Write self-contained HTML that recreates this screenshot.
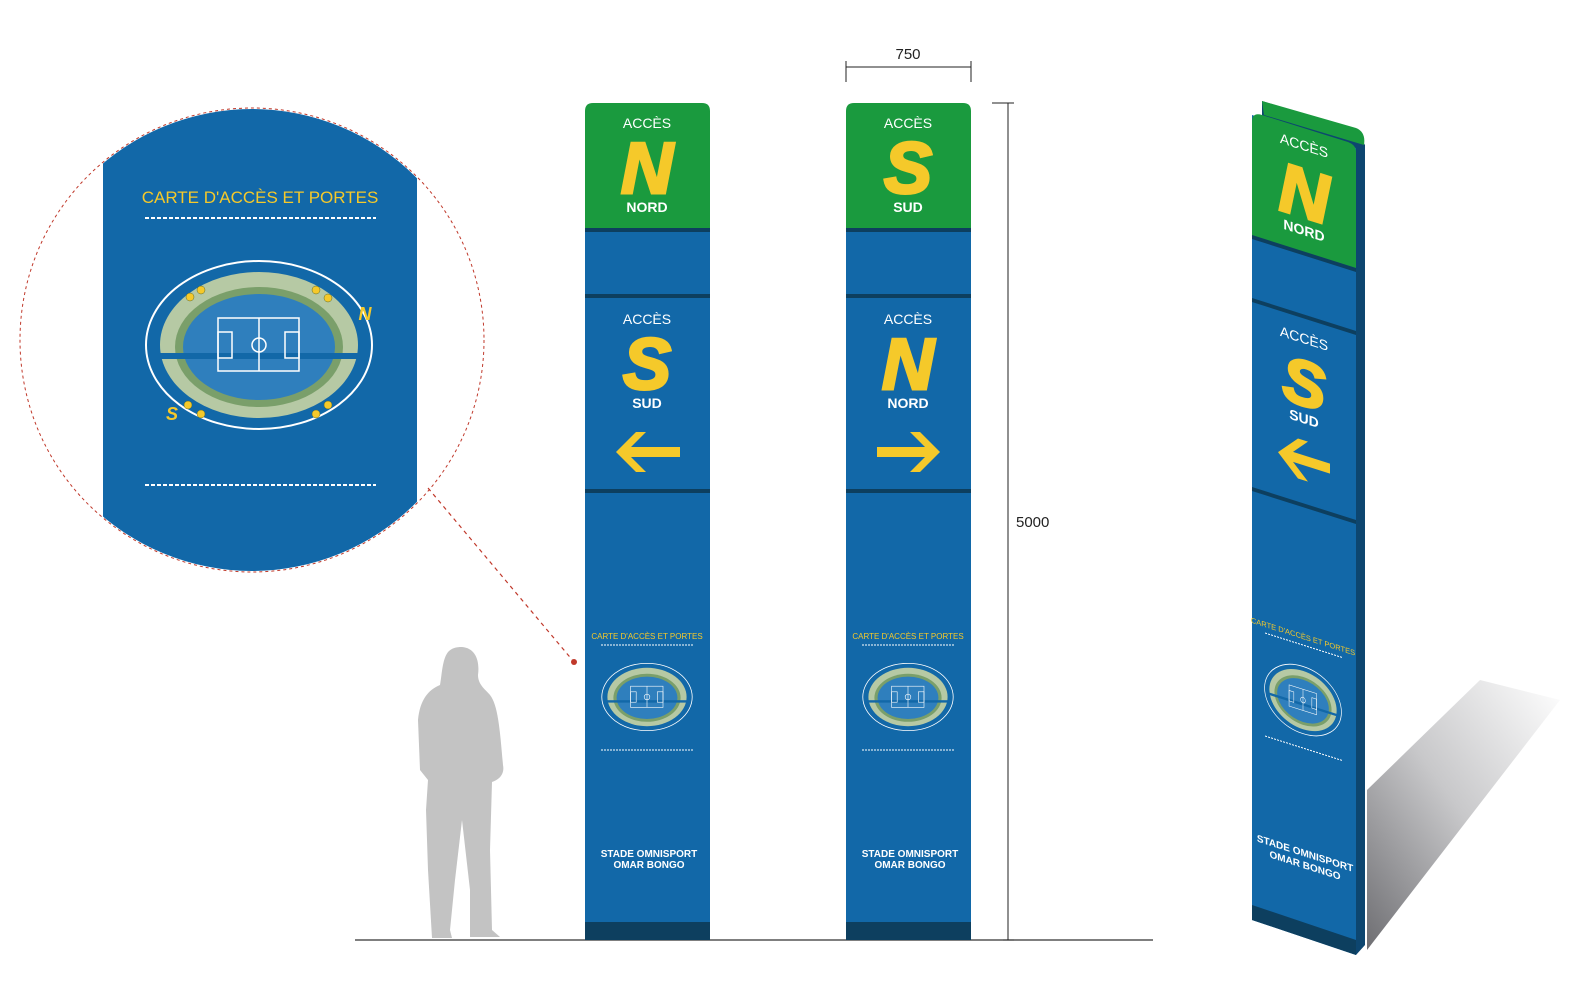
<!DOCTYPE html>
<html><head><meta charset="utf-8"><style>
html,body{margin:0;padding:0;background:#fff;}
svg{display:block;font-family:"Liberation Sans",sans-serif;}
</style></head><body>
<svg width="1580" height="1006" viewBox="0 0 1580 1006" xmlns="http://www.w3.org/2000/svg">
<defs>
<g id="stad">
  <ellipse cx="0" cy="0" rx="113" ry="84" fill="none" stroke="#fff" stroke-width="2"/>
  <ellipse cx="0" cy="0" rx="99" ry="73" fill="#b6c9a4"/>
  <ellipse cx="0" cy="2" rx="84" ry="60" fill="#7a9f6a"/>
  <ellipse cx="0" cy="2" rx="76" ry="53" fill="#2f7fbd"/>
  <rect x="-100" y="8" width="200" height="6" fill="#1268a8"/>
  <rect x="-41" y="-27" width="81" height="53" fill="none" stroke="#fff" stroke-width="1.5"/>
  <line x1="0" y1="-27" x2="0" y2="26" stroke="#fff" stroke-width="1.5"/>
  <circle cx="0" cy="0" r="7" fill="none" stroke="#fff" stroke-width="1.5"/>
  <rect x="-41" y="-13" width="14" height="26" fill="none" stroke="#fff" stroke-width="1.5"/>
  <rect x="26" y="-13" width="14" height="26" fill="none" stroke="#fff" stroke-width="1.5"/>
</g>
<linearGradient id="sh" x1="0" y1="1" x2="1" y2="0">
  <stop offset="0" stop-color="#6e6e72"/>
  <stop offset="0.5" stop-color="#c8c8ca"/>
  <stop offset="1" stop-color="#fff"/>
</linearGradient>
<clipPath id="cc"><circle cx="252" cy="340" r="231"/></clipPath>
</defs>

<g clip-path="url(#cc)">
  <rect x="103" y="100" width="314" height="480" fill="#1268a8"/>
</g>
<circle cx="252" cy="340" r="232" fill="none" stroke="#c0392b" stroke-width="1" stroke-dasharray="3,3"/>
<text x="260" y="203" text-anchor="middle" font-size="17" fill="#f5c92a">CARTE D'ACCÈS ET PORTES</text>
<line x1="145" y1="218" x2="376" y2="218" stroke="#fff" stroke-width="2" stroke-dasharray="4,2"/>
<line x1="145" y1="485" x2="376" y2="485" stroke="#fff" stroke-width="2" stroke-dasharray="4,2"/>
<use href="#stad" transform="translate(259,345)"/>
<text x="365" y="320" font-size="18" font-weight="bold" font-style="italic" fill="#f5c92a" text-anchor="middle">N</text>
<text x="172" y="420" font-size="18" font-weight="bold" font-style="italic" fill="#f5c92a" text-anchor="middle">S</text>
<g fill="#f5c92a" stroke="#5a6a30" stroke-width="0.5">
<circle cx="190" cy="297" r="4"/><circle cx="201" cy="290" r="4"/><circle cx="316" cy="290" r="4"/><circle cx="328" cy="298" r="4"/>
<circle cx="188" cy="405" r="4"/><circle cx="201" cy="414" r="4"/><circle cx="316" cy="414" r="4"/><circle cx="328" cy="405" r="4"/>
</g>
<line x1="428" y1="488" x2="574" y2="662" stroke="#c0392b" stroke-width="1.2" stroke-dasharray="4,4"/>
<circle cx="574" cy="662" r="3" fill="#c0392b"/>

<line x1="355" y1="940" x2="1153" y2="940" stroke="#333" stroke-width="1.2"/>

<path fill="#c3c3c3" d="M462,647 C475,648 480,660 478,675 C478,685 486,690 490,695 C498,705 500,730 503,765 C505,775 498,780 492,782 L490,850 L492,930 L500,937 L470,937 L470,890 L462,820 L455,880 L450,930 L452,938 L432,938 L428,870 L426,810 L428,780 L420,770 L418,720 C420,700 428,690 440,685 C442,675 442,660 448,652 C452,648 456,647 462,647 Z"/>

<g>
<path d="M585,111 Q585,103 593,103 L702,103 Q710,103 710,111 L710,228 L585,228 Z" fill="#1a9a3e"/>
<rect x="585" y="228" width="125" height="712" fill="#1268a8"/>
<rect x="585" y="228" width="125" height="4" fill="#0d3f5f"/>
<rect x="585" y="294" width="125" height="4" fill="#0d3f5f"/>
<rect x="585" y="489" width="125" height="4" fill="#0d3f5f"/>
<rect x="585" y="922" width="125" height="18" fill="#0d3f5f"/>
<text x="647" y="128" text-anchor="middle" font-size="14" fill="#fff">ACCÈS</text>
<text x="647" y="193" text-anchor="middle" font-size="72" font-weight="bold" font-style="italic" fill="#f5c92a" stroke="#f5c92a" stroke-width="3">N</text>
<text x="647" y="212" text-anchor="middle" font-size="14" font-weight="bold" fill="#fff">NORD</text>
<text x="647" y="324" text-anchor="middle" font-size="14" fill="#fff">ACCÈS</text>
<text x="647" y="389" text-anchor="middle" font-size="72" font-weight="bold" font-style="italic" fill="#f5c92a" stroke="#f5c92a" stroke-width="3">S</text>
<text x="647" y="408" text-anchor="middle" font-size="14" font-weight="bold" fill="#fff">SUD</text>
<path d="M616,452 L636,432 L646,432 L631,447 L680,447 L680,457 L631,457 L646,472 L636,472 Z" fill="#f5c92a"/>
<text x="647" y="639" text-anchor="middle" font-size="8" fill="#f5c92a">CARTE D'ACCÈS ET PORTES</text>
<line x1="601" y1="645" x2="694" y2="645" stroke="#fff" stroke-width="1" stroke-dasharray="2,1"/>
<line x1="601" y1="750" x2="694" y2="750" stroke="#fff" stroke-width="1" stroke-dasharray="2,1"/>
<use href="#stad" transform="translate(647,697) scale(0.4)"/>
<text x="649" y="857" text-anchor="middle" font-size="10" font-weight="bold" fill="#fff">STADE OMNISPORT</text>
<text x="649" y="868" text-anchor="middle" font-size="10" font-weight="bold" fill="#fff">OMAR BONGO</text>
</g>

<g>
<path d="M846,111 Q846,103 854,103 L963,103 Q971,103 971,111 L971,228 L846,228 Z" fill="#1a9a3e"/>
<rect x="846" y="228" width="125" height="712" fill="#1268a8"/>
<rect x="846" y="228" width="125" height="4" fill="#0d3f5f"/>
<rect x="846" y="294" width="125" height="4" fill="#0d3f5f"/>
<rect x="846" y="489" width="125" height="4" fill="#0d3f5f"/>
<rect x="846" y="922" width="125" height="18" fill="#0d3f5f"/>
<text x="908" y="128" text-anchor="middle" font-size="14" fill="#fff">ACCÈS</text>
<text x="908" y="193" text-anchor="middle" font-size="72" font-weight="bold" font-style="italic" fill="#f5c92a" stroke="#f5c92a" stroke-width="3">S</text>
<text x="908" y="212" text-anchor="middle" font-size="14" font-weight="bold" fill="#fff">SUD</text>
<text x="908" y="324" text-anchor="middle" font-size="14" fill="#fff">ACCÈS</text>
<text x="908" y="389" text-anchor="middle" font-size="72" font-weight="bold" font-style="italic" fill="#f5c92a" stroke="#f5c92a" stroke-width="3">N</text>
<text x="908" y="408" text-anchor="middle" font-size="14" font-weight="bold" fill="#fff">NORD</text>
<path d="M940,452 L920,432 L910,432 L925,447 L877,447 L877,457 L925,457 L910,472 L920,472 Z" fill="#f5c92a"/>
<text x="908" y="639" text-anchor="middle" font-size="8" fill="#f5c92a">CARTE D'ACCÈS ET PORTES</text>
<line x1="862" y1="645" x2="955" y2="645" stroke="#fff" stroke-width="1" stroke-dasharray="2,1"/>
<line x1="862" y1="750" x2="955" y2="750" stroke="#fff" stroke-width="1" stroke-dasharray="2,1"/>
<use href="#stad" transform="translate(908,697) scale(0.4)"/>
<text x="910" y="857" text-anchor="middle" font-size="10" font-weight="bold" fill="#fff">STADE OMNISPORT</text>
<text x="910" y="868" text-anchor="middle" font-size="10" font-weight="bold" fill="#fff">OMAR BONGO</text>
</g>

<line x1="846" y1="67" x2="971" y2="67" stroke="#222" stroke-width="1"/>
<line x1="846" y1="61" x2="846" y2="82" stroke="#222" stroke-width="1"/>
<line x1="971" y1="61" x2="971" y2="82" stroke="#222" stroke-width="1"/>
<text x="908" y="59" text-anchor="middle" font-size="15" fill="#222">750</text>
<line x1="1008" y1="103" x2="1008" y2="940" stroke="#222" stroke-width="1"/>
<line x1="992" y1="103" x2="1014" y2="103" stroke="#222" stroke-width="1"/>
<line x1="1003" y1="940" x2="1014" y2="940" stroke="#222" stroke-width="1"/>
<text x="1016" y="527" font-size="15" fill="#222">5000</text>

<polygon points="1367,790 1480,680 1560,700 1367,950" fill="url(#sh)"/>
<polygon points="1262,101 1355,130 1365,145 1365,945 1356,955 1356,150 1262,118" fill="#0d4670"/>
<path d="M1262,101 L1356,128 Q1366,132 1364,145 L1264,115 Z" fill="#1a9a3e"/>
<polygon points="1252,115 1356,148 1356,955 1252,920" fill="#1268a8"/>
<path d="M1252,122 Q1252,112 1262,115 L1348,142 Q1356,145 1356,152 L1356,268 L1252,236 Z" fill="#1a9a3e"/>
<polygon points="1252,235 1356,268 1356,272 1252,239" fill="#0d3f5f"/>
<polygon points="1252,298 1356,331 1356,335 1252,302" fill="#0d3f5f"/>
<polygon points="1252,487 1356,520 1356,524 1252,491" fill="#0d3f5f"/>
<polygon points="1252,905 1356,940 1356,955 1252,920" fill="#0d3f5f"/>
<g transform="matrix(1,0.317,0,1,0,0)">
<text x="1304" y="-263" text-anchor="middle" font-size="14" fill="#fff">ACCÈS</text>
<text x="1304" y="-196" text-anchor="middle" font-size="70" font-weight="bold" font-style="italic" fill="#f5c92a" stroke="#f5c92a" stroke-width="3">N</text>
<text x="1304" y="-178" text-anchor="middle" font-size="14" font-weight="bold" fill="#fff">NORD</text>
<text x="1304" y="-70" text-anchor="middle" font-size="14" fill="#fff">ACCÈS</text>
<text x="1304" y="-8" text-anchor="middle" font-size="64" font-weight="bold" font-style="italic" fill="#f5c92a" stroke="#f5c92a" stroke-width="3">S</text>
<text x="1304" y="10" text-anchor="middle" font-size="14" font-weight="bold" fill="#fff">SUD</text>
<path d="M1278,47 L1298,27 L1308,27 L1293,42 L1330,42 L1330,52 L1293,52 L1308,67 L1298,67 Z" fill="#f5c92a"/>
<text x="1303" y="226" text-anchor="middle" font-size="7.5" fill="#f5c92a">CARTE D'ACCÈS ET PORTES</text>
<line x1="1265" y1="232" x2="1342" y2="232" stroke="#fff" stroke-width="1" stroke-dasharray="2,1"/>
<line x1="1265" y1="335" x2="1342" y2="335" stroke="#fff" stroke-width="1" stroke-dasharray="2,1"/>
<use href="#stad" transform="translate(1303,287) scale(0.34,0.4)"/>
<text x="1305" y="443" text-anchor="middle" font-size="10" font-weight="bold" fill="#fff">STADE OMNISPORT</text>
<text x="1305" y="455" text-anchor="middle" font-size="10" font-weight="bold" fill="#fff">OMAR BONGO</text>
</g>
</svg>
</body></html>
